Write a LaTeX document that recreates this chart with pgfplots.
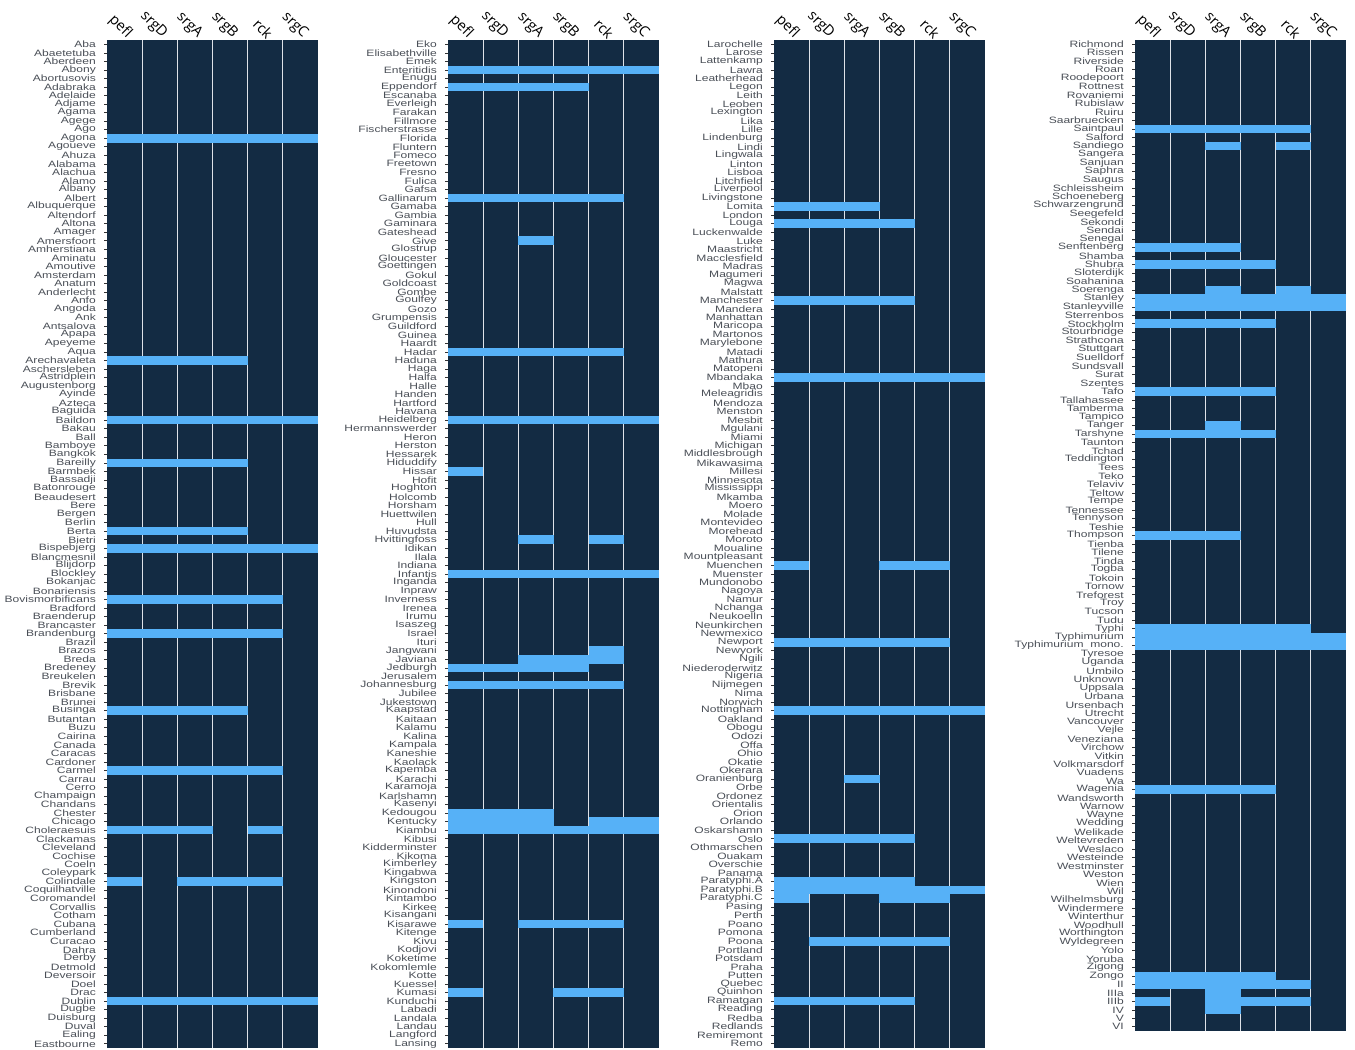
\documentclass[border=0pt]{standalone}
\usepackage{pgfplots}
\pgfplotsset{compat=1.18}
\usepackage{fontspec}
\setmainfont{Liberation Sans}
\newfontfamily\lblfont[FakeStretch=1.31]{Liberation Sans}
\newfontfamily\hdrfont{Open Sans}
\definecolor{ggdark}{HTML}{132B43}
\definecolor{ggblue}{HTML}{56B1F7}
\definecolor{lblgray}{HTML}{4A4F57}
\definecolor{sepline}{RGB}{222,226,232}

\pgfdeclareplotmark{cellA}{\pgfpathrectanglecorners{\pgfpoint{-17.65bp}{-4.30bp}}{\pgfpoint{17.65bp}{4.30bp}}\pgfusepathqfill}
\pgfdeclareplotmark{cellB}{\pgfpathrectanglecorners{\pgfpoint{-17.65bp}{-4.26bp}}{\pgfpoint{17.65bp}{4.26bp}}\pgfusepathqfill}

\pgfplotsset{
  hm/.style={
    scale only axis, width=211bp, anchor=north west,
    xmin=0.5, xmax=6.5, y dir=reverse, ymin=0.5,
    axis background/.style={fill=ggdark},
    axis on top,
    axis line style={draw=none},
    xtick={1,...,6}, xticklabels={pefl,srgD,srgA,srgB,rck,srgC},
    xticklabel pos=right,
    x tick style={draw=none},
    minor xtick={1.5,2.5,3.5,4.5,5.5},
    xminorgrids=true,
    minor grid style={sepline, line width=0.9bp},
    minor tick length=0pt,
    major tick length=3bp,
    tick align=outside,
    ytick pos=left,
    y tick style={black!80, line width=0.6bp},
    xticklabel style={font=\hdrfont\fontsize{14.5bp}{15bp}\selectfont, text=black, xshift=5bp, yshift=1bp, rotate=-45, anchor=east, inner sep=0pt},
    yticklabel style={font=\lblfont\fontsize{9.2bp}{9.2bp}\selectfont, text=lblgray, inner sep=0pt, xshift=-8bp},
  },
}

\begin{document}
\begin{tikzpicture}
\useasboundingbox (0bp,0bp) rectangle (1355bp,1050bp);

% ---------------- Panel 1 ----------------
\begin{axis}[hm, at={(107bp,1010bp)}, height=1008bp, ymax=118.5,
  ytick={1,...,118},
  yticklabels={Aba,Abaetetuba,Aberdeen,Abony,Abortusovis,Adabraka,Adelaide,Adjame,Agama,Agege,Ago,Agona,Agoueve,Ahuza,Alabama,Alachua,Alamo,Albany,Albert,Albuquerque,Altendorf,Altona,Amager,Amersfoort,Amherstiana,Aminatu,Amoutive,Amsterdam,Anatum,Anderlecht,Anfo,Angoda,Ank,Antsalova,Apapa,Apeyeme,Aqua,Arechavaleta,Aschersleben,Astridplein,Augustenborg,Ayinde,Azteca,Baguida,Baildon,Bakau,Ball,Bamboye,Bangkok,Bareilly,Barmbek,Bassadji,Batonrouge,Beaudesert,Bere,Bergen,Berlin,Berta,Bietri,Bispebjerg,Blancmesnil,Blijdorp,Blockley,Bokanjac,Bonariensis,Bovismorbificans,Bradford,Braenderup,Brancaster,Brandenburg,Brazil,Brazos,Breda,Bredeney,Breukelen,Brevik,Brisbane,Brunei,Businga,Butantan,Buzu,Cairina,Canada,Caracas,Cardoner,Carmel,Carrau,Cerro,Champaign,Chandans,Chester,Chicago,Choleraesuis,Clackamas,Cleveland,Cochise,Coeln,Coleypark,Colindale,Coquilhatville,Coromandel,Corvallis,Cotham,Cubana,Cumberland,Curacao,Dahra,Derby,Detmold,Deversoir,Doel,Drac,Dublin,Dugbe,Duisburg,Duval,Ealing,Eastbourne}]
\addplot[only marks, mark=cellA, color=ggblue] coordinates {
(1,12)(2,12)(3,12)(4,12)(5,12)(6,12)
(1,38)(2,38)(3,38)(4,38)
(1,45)(2,45)(3,45)(4,45)(5,45)(6,45)
(1,50)(2,50)(3,50)(4,50)
(1,58)(2,58)(3,58)(4,58)
(1,60)(2,60)(3,60)(4,60)(5,60)(6,60)
(1,66)(2,66)(3,66)(4,66)(5,66)
(1,70)(2,70)(3,70)(4,70)(5,70)
(1,79)(2,79)(3,79)(4,79)
(1,86)(2,86)(3,86)(4,86)(5,86)
(1,93)(2,93)(3,93)(5,93)
(1,99)(3,99)(4,99)(5,99)
(1,113)(2,113)(3,113)(4,113)(5,113)(6,113)
};
\end{axis}

% ---------------- Panel 2 ----------------
\begin{axis}[hm, at={(448bp,1010bp)}, height=1008bp, ymax=118.5,
  ytick={1,...,118},
  yticklabels={Eko,Elisabethville,Emek,Enteritidis,Enugu,Eppendorf,Escanaba,Everleigh,Farakan,Fillmore,Fischerstrasse,Florida,Fluntern,Fomeco,Freetown,Fresno,Fulica,Gafsa,Gallinarum,Gamaba,Gambia,Gaminara,Gateshead,Give,Glostrup,Gloucester,Goettingen,Gokul,Goldcoast,Gombe,Goulfey,Gozo,Grumpensis,Guildford,Guinea,Haardt,Hadar,Haduna,Haga,Halfa,Halle,Handen,Hartford,Havana,Heidelberg,Hermannswerder,Heron,Herston,Hessarek,Hiduddify,Hissar,Hofit,Hoghton,Holcomb,Horsham,Huettwilen,Hull,Huvudsta,Hvittingfoss,Idikan,Ilala,Indiana,Infantis,Inganda,Inpraw,Inverness,Irenea,Irumu,Isaszeg,Israel,Ituri,Jangwani,Javiana,Jedburgh,Jerusalem,Johannesburg,Jubilee,Jukestown,Kaapstad,Kaitaan,Kalamu,Kalina,Kampala,Kaneshie,Kaolack,Kapemba,Karachi,Karamoja,Karlshamn,Kasenyi,Kedougou,Kentucky,Kiambu,Kibusi,Kidderminster,Kikoma,Kimberley,Kingabwa,Kingston,Kinondoni,Kintambo,Kirkee,Kisangani,Kisarawe,Kitenge,Kivu,Kodjovi,Koketime,Kokomlemle,Kotte,Kuessel,Kumasi,Kunduchi,Labadi,Landala,Landau,Langford,Lansing}]
\addplot[only marks, mark=cellA, color=ggblue] coordinates {
(1,4)(2,4)(3,4)(4,4)(5,4)(6,4)
(1,6)(2,6)(3,6)(4,6)
(1,19)(2,19)(3,19)(4,19)(5,19)
(3,24)
(1,37)(2,37)(3,37)(4,37)(5,37)
(1,45)(2,45)(3,45)(4,45)(5,45)(6,45)
(1,51)
(3,59)(5,59)
(1,63)(2,63)(3,63)(4,63)(5,63)(6,63)
(5,72)
(3,73)(4,73)(5,73)
(1,74)(2,74)(3,74)(4,74)
(1,76)(2,76)(3,76)(4,76)(5,76)
(1,91)(2,91)(3,91)
(1,92)(2,92)(3,92)(5,92)(6,92)
(1,93)(2,93)(3,93)(4,93)(5,93)(6,93)
(1,104)(3,104)(4,104)(5,104)
(1,112)(4,112)(5,112)
};
\end{axis}

% ---------------- Panel 3 ----------------
\begin{axis}[hm, at={(774bp,1010bp)}, height=1008bp, ymax=118.5,
  ytick={1,...,118},
  yticklabels={Larochelle,Larose,Lattenkamp,Lawra,Leatherhead,Legon,Leith,Leoben,Lexington,Lika,Lille,Lindenburg,Lindi,Lingwala,Linton,Lisboa,Litchfield,Liverpool,Livingstone,Lomita,London,Louga,Luckenwalde,Luke,Maastricht,Macclesfield,Madras,Magumeri,Magwa,Malstatt,Manchester,Mandera,Manhattan,Maricopa,Martonos,Marylebone,Matadi,Mathura,Matopeni,Mbandaka,Mbao,Meleagridis,Mendoza,Menston,Mesbit,Mgulani,Miami,Michigan,Middlesbrough,Mikawasima,Millesi,Minnesota,Mississippi,Mkamba,Moero,Molade,Montevideo,Morehead,Moroto,Moualine,Mountpleasant,Muenchen,Muenster,Mundonobo,Nagoya,Namur,Nchanga,Neukoelln,Neunkirchen,Newmexico,Newport,Newyork,Ngili,Niederoderwitz,Nigeria,Nijmegen,Nima,Norwich,Nottingham,Oakland,Obogu,Odozi,Offa,Ohio,Okatie,Okerara,Oranienburg,Orbe,Ordonez,Orientalis,Orion,Orlando,Oskarshamn,Oslo,Othmarschen,Ouakam,Overschie,Panama,Paratyphi.A,Paratyphi.B,Paratyphi.C,Pasing,Perth,Poano,Pomona,Poona,Portland,Potsdam,Praha,Putten,Quebec,Quinhon,Ramatgan,Reading,Redba,Redlands,Remiremont,Remo}]
\addplot[only marks, mark=cellA, color=ggblue] coordinates {
(1,20)(2,20)(3,20)
(1,22)(2,22)(3,22)(4,22)
(1,31)(2,31)(3,31)(4,31)
(1,40)(2,40)(3,40)(4,40)(5,40)(6,40)
(1,62)(4,62)(5,62)
(1,71)(2,71)(3,71)(4,71)(5,71)
(1,79)(2,79)(3,79)(4,79)(5,79)(6,79)
(3,87)
(1,94)(2,94)(3,94)(4,94)
(1,99)(2,99)(3,99)(4,99)
(1,100)(2,100)(3,100)(4,100)(5,100)(6,100)
(1,101)(4,101)(5,101)
(2,106)(3,106)(4,106)(5,106)
(1,113)(2,113)(3,113)(4,113)
};
\end{axis}

% ---------------- Panel 4 ----------------
\begin{axis}[hm, at={(1135bp,1010bp)}, height=991bp, ymax=117.5,
  ytick={1,...,117},
  yticklabels={Richmond,Rissen,Riverside,Roan,Roodepoort,Rottnest,Rovaniemi,Rubislaw,Ruiru,Saarbruecken,Saintpaul,Salford,Sandiego,Sangera,Sanjuan,Saphra,Saugus,Schleissheim,Schoeneberg,Schwarzengrund,Seegefeld,Sekondi,Sendai,Senegal,Senftenberg,Shamba,Shubra,Sloterdijk,Soahanina,Soerenga,Stanley,Stanleyville,Sterrenbos,Stockholm,Stourbridge,Strathcona,Stuttgart,Suelldorf,Sundsvall,Surat,Szentes,Tafo,Tallahassee,Tamberma,Tampico,Tanger,Tarshyne,Taunton,Tchad,Teddington,Tees,Teko,Telaviv,Teltow,Tempe,Tennessee,Tennyson,Teshie,Thompson,Tienba,Tilene,Tinda,Togba,Tokoin,Tornow,Treforest,Troy,Tucson,Tudu,Typhi,Typhimurium,Typhimurium\ \ mono.,Tyresoe,Uganda,Umbilo,Unknown,Uppsala,Urbana,Ursenbach,Utrecht,Vancouver,Vejle,Veneziana,Virchow,Vitkin,Volkmarsdorf,Vuadens,Wa,Wagenia,Wandsworth,Warnow,Wayne,Wedding,Welikade,Weltevreden,Weslaco,Westeinde,Westminster,Weston,Wien,Wil,Wilhelmsburg,Windermere,Winterthur,Woodhull,Worthington,Wyldegreen,Yolo,Yoruba,Zigong,Zongo,II,IIIa,IIIb,IV,V,VI}]
\addplot[only marks, mark=cellB, color=ggblue] coordinates {
(1,11)(2,11)(3,11)(4,11)(5,11)
(3,13)(5,13)
(1,25)(2,25)(3,25)
(1,27)(2,27)(3,27)(4,27)
(3,30)(5,30)
(1,31)(2,31)(3,31)(4,31)(5,31)(6,31)
(1,32)(2,32)(3,32)(4,32)(5,32)(6,32)
(1,34)(2,34)(3,34)(4,34)
(1,42)(2,42)(3,42)(4,42)
(3,46)
(1,47)(2,47)(3,47)(4,47)
(1,59)(2,59)(3,59)
(1,70)(2,70)(3,70)(4,70)(5,70)
(1,71)(2,71)(3,71)(4,71)(5,71)(6,71)
(1,72)(2,72)(3,72)(4,72)(5,72)(6,72)
(1,89)(2,89)(3,89)(4,89)
(1,111)(2,111)(3,111)(4,111)
(1,112)(2,112)(3,112)(4,112)(5,112)
(3,113)
(1,114)(3,114)(4,114)(5,114)
(3,115)
};
\end{axis}
\end{tikzpicture}
\end{document}
